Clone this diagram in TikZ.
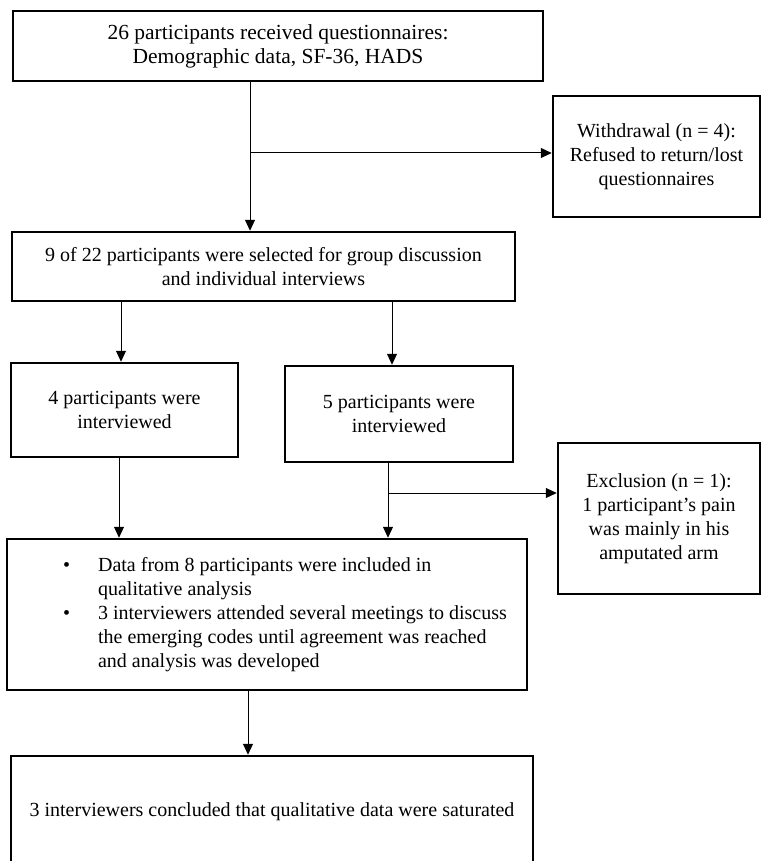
\documentclass[tikz,border=0pt]{standalone}
\usepackage{fontspec}
\setmainfont{Liberation Serif}
\usetikzlibrary{positioning,arrows.meta}

\begin{document}
\begin{tikzpicture}[
        x=1pt, y=-1pt,
        font=\fontsize{20}{24}\selectfont,
        >={Triangle[length=11pt,width=10pt]},
        % Styles
        flowbox/.style={rectangle, draw=black, line width=2.5pt, align=center, inner sep=2pt},
        arrow/.style={line width=1pt, ->, color=black}
    ]
    \clip (0,0) rectangle (762,861);

    % ================= TOP =================
    \node[flowbox, minimum width=530pt, minimum height=70pt, font=\fontsize{21.5}{24}\selectfont] (recv) at (278,46)
        {26 participants received questionnaires:\\Demographic data, SF-36, HADS};

    \node[flowbox, minimum width=207pt, minimum height=121pt] (withdraw) at (656.5,156.5)
        {Withdrawal (n = 4):\\Refused to return/lost\\questionnaires};

    \node[flowbox, minimum width=503pt, minimum height=69pt] (select) at (263.5,266.5)
        {9 of 22 participants were selected for group discussion\\and individual interviews};

    % Connections top
    \coordinate (fork1) at (250,153);
    \draw[line width=1pt] (recv.south -| fork1) -- (fork1);
    \draw[arrow] (fork1) -- (select.north -| fork1);
    \draw[arrow] (fork1) -- (withdraw.west |- fork1);

    % ================= INTERVIEWS =================
    \node[flowbox, minimum width=227pt, minimum height=94pt] (four) at (124.5,410)
        {4 participants were\\interviewed};

    \node[flowbox, minimum width=228pt, minimum height=96pt] (five) at (399,414)
        {5 participants were\\interviewed};

    \node[flowbox, minimum width=202pt, minimum height=151pt] (excl) at (659,518.5)
        {Exclusion (n = 1):\\1 participant’s pain\\was mainly in his\\amputated arm};

    % Connections middle
    \draw[arrow] ([xshift=-3.5pt]four.north |- select.south) -- ([xshift=-3.5pt]four.north);
    \draw[arrow] ([xshift=-7pt]five.north |- select.south) -- ([xshift=-7pt]five.north);

    % ================= ANALYSIS =================
    \node[flowbox, minimum width=520pt, minimum height=151pt, align=left] (analysis) at (267,614.5)
        {\begin{tabular}{@{\hspace{36pt}}p{35pt}@{}l@{}}
            \textbullet & Data from 8 participants were included in\\
                        & qualitative analysis\\
            \textbullet & 3 interviewers attended several meetings to discuss\\
                        & the emerging codes until agreement was reached\\
                        & and analysis was developed
         \end{tabular}};

    \node[flowbox, minimum width=522pt, minimum height=112pt] (satur) at (272,812)
        {3 interviewers concluded that qualitative data were saturated};

    % Connections bottom
    \coordinate (fork2) at (388,493);
    \draw[arrow] ([xshift=-5.5pt]four.south) -- ([xshift=-5.5pt]four.south |- analysis.north);
    \draw[line width=1pt] (five.south -| fork2) -- (fork2);
    \draw[arrow] (fork2) -- (analysis.north -| fork2);
    \draw[arrow] (fork2) -- (excl.west |- fork2);
    \draw[arrow] ([xshift=-19pt]analysis.south) -- ([xshift=-19pt]analysis.south |- satur.north);

\end{tikzpicture}
\end{document}
